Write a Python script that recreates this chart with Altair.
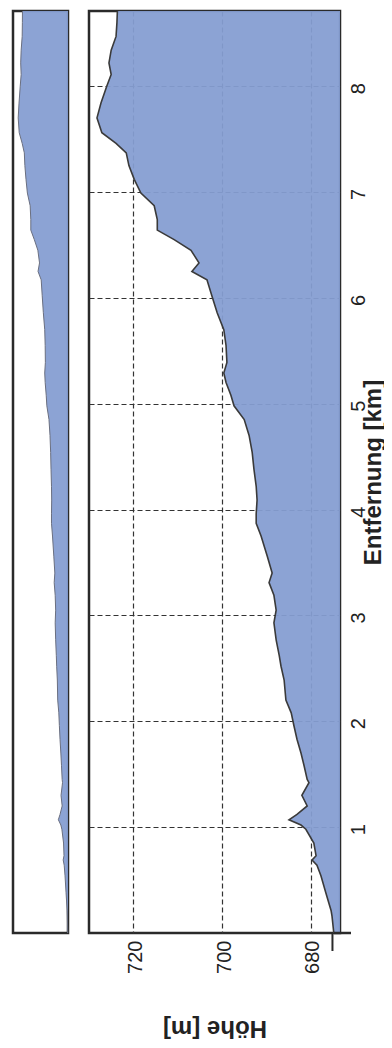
import altair as alt
import pandas as pd

# Distance along the route (km) and elevation (m) read from the profile
km = [0.00, 0.16, 0.21, 0.38, 0.54, 0.64, 0.69, 0.73, 0.85, 0.98, 1.02, 1.07, 1.12,
      1.20, 1.30, 1.42, 1.45, 1.58, 1.70, 1.83, 1.96, 2.08, 2.20, 2.39, 2.52, 2.62,
      2.77, 2.93, 3.05, 3.19, 3.31, 3.40, 3.56, 3.75, 3.87, 3.96, 4.09, 4.22, 4.38,
      4.54, 4.70, 4.85, 4.98, 5.08, 5.20, 5.29, 5.39, 5.55, 5.70, 5.86, 6.02, 6.17,
      6.25, 6.33, 6.45, 6.55, 6.64, 6.74, 6.87, 6.99, 7.12, 7.25, 7.37, 7.46, 7.56,
      7.70, 7.84, 8.00, 8.11, 8.22, 8.34, 8.47, 8.60, 8.71]
elev = [674.8, 675.2, 675.4, 676.6, 677.7, 678.6, 679.7, 678.8, 679.3, 681.1, 682.2,
        684.9, 683.1, 680.8, 682.0, 680.4, 680.8, 681.5, 682.2, 683.1, 683.8, 684.4,
        685.6, 686.0, 686.7, 687.1, 687.8, 688.3, 687.8, 688.3, 689.4, 688.7, 689.8,
        691.2, 692.3, 692.3, 692.1, 692.3, 692.8, 693.2, 693.9, 695.0, 697.3, 698.0,
        699.1, 699.6, 698.9, 699.1, 699.6, 701.1, 702.3, 703.4, 706.8, 705.2, 707.0,
        710.8, 714.6, 714.6, 715.3, 718.3, 719.8, 721.0, 721.6, 723.9, 727.1, 728.2,
        727.3, 726.0, 725.0, 725.5, 725.0, 723.9, 723.7, 723.6]

km_ticks = [1, 2, 3, 4, 5, 6, 7, 8]
elev_ticks = [680, 700, 720]

km_domain = [0, 8.71]
main_elev_domain = [673.4, 730]
overview_elev_domain = [674.5, 733.8]
axis_origin_elev = [675.1]

df = pd.DataFrame({"km": km, "elev": elev})

FILL = "#859DD1"
EDGE = "#3a3a3a"
FONT = "Liberation Sans"
H = 922

base = alt.Chart(df)

# ---- main panel ----
main_area = base.mark_area(orient="horizontal", color=FILL, opacity=0.94).encode(
    x=alt.X("elev:Q",
            scale=alt.Scale(domain=main_elev_domain, reverse=True, zero=False, nice=False),
            axis=alt.Axis(values=elev_ticks, format="d", title="Höhe [m]", grid=True,
                          gridDash=[5, 3], gridColor="#333333", gridWidth=1.2,
                          domain=False, ticks=False, tickSize=0,
                          labelAngle=270, labelAlign="right", labelBaseline="middle",
                          labelPadding=7, labelOffset=2, labelFont=FONT, labelFontSize=20,
                          labelColor="#222222",
                          titleAngle=180, titleX=125.5, titleY=94, titleAlign="center",
                          titleBaseline="middle", titleFont=FONT, titleFontSize=24,
                          titleFontWeight="bold", titleColor="#222222")),
    x2=alt.datum(main_elev_domain[0]),
    y=alt.Y("km:Q",
            scale=alt.Scale(domain=km_domain, zero=False, nice=False),
            axis=alt.Axis(orient="right", values=km_ticks, format="d",
                          title="Entfernung [km]",
                          grid=True, gridDash=[5, 3], gridColor="#333333", gridWidth=1.2,
                          domain=False, ticks=False, tickSize=0,
                          labelAngle=270, labelAlign="center", labelBaseline="top",
                          labelPadding=8, labelOffset=2, labelFont=FONT, labelFontSize=20,
                          labelColor="#222222",
                          titleAngle=270, titleX=33, titleY=461, titleAlign="center",
                          titleBaseline="middle", titleFont=FONT, titleFontSize=24,
                          titleFontWeight="bold", titleColor="#222222")),
)

main_line = base.mark_line(color=EDGE, strokeWidth=1.6).encode(
    x="elev:Q", y="km:Q", order="km:Q"
)

origin_df = pd.DataFrame({"e": axis_origin_elev})
origin_tick = alt.Chart(origin_df).mark_rule(color="#2a2a2a", strokeWidth=2).encode(
    x="e:Q", y=alt.value(H), y2=alt.value(H + 18)
)
bottom_ext = alt.Chart(origin_df).mark_rule(color="#2a2a2a", strokeWidth=2.5).encode(
    x=alt.value(245), x2=alt.value(262), y=alt.value(H)
)

main = alt.layer(main_area, main_line, origin_tick, bottom_ext).properties(width=251, height=H)

# ---- overview panel ----
ov_area = base.mark_area(orient="horizontal", color=FILL, opacity=0.94).encode(
    x=alt.X("elev:Q",
            scale=alt.Scale(domain=overview_elev_domain, reverse=True, zero=False, nice=False),
            axis=None),
    x2=alt.datum(overview_elev_domain[0]),
    y=alt.Y("km:Q", scale=alt.Scale(domain=km_domain, zero=False, nice=False), axis=None),
)
ov_line = base.mark_line(color="#6a6f80", strokeWidth=1).encode(
    x="elev:Q", y="km:Q", order="km:Q"
)
overview = alt.layer(ov_area, ov_line).properties(width=55, height=H)

chart = alt.hconcat(overview, main, spacing=16).resolve_scale(
    x="independent", y="independent"
).configure_view(
    stroke="#2a2a2a", strokeWidth=2.5
).properties(
    padding={"left": 3, "top": -2, "right": -3, "bottom": 0},
    background="white"
)

chart.save("out.html", embed_options={"renderer": "svg", "actions": False})
